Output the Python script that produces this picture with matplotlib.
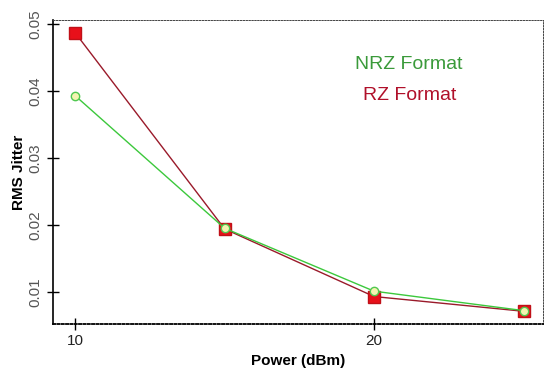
import matplotlib
matplotlib.use("Agg")
import matplotlib.pyplot as plt

power = [10, 15, 20, 25]
nrz_jitter = [0.0393, 0.0195, 0.0101, 0.0072]
rz_jitter = [0.0487, 0.0194, 0.0093, 0.0071]
xticks = [10, 20]
yticks = [0.01, 0.02, 0.03, 0.04, 0.05]

plt.rcParams['font.family'] = ['Liberation Sans', 'DejaVu Sans']

fig = plt.figure(figsize=(5.47, 3.73), dpi=100)
ax = fig.add_axes([53/547, 1 - 324/373, (543-53)/547, (324-20)/373])

ax.plot(power, rz_jitter, color='#9a1a2a', lw=1.0, marker='s', ms=8.5,
        mfc='#e8101a', mec='#c01018', zorder=3)
ax.plot(power, nrz_jitter, color='#3cc83c', lw=1.0, marker='o', ms=6,
        mfc='#f4f4b0', mec='#50c850', mew=1.0, zorder=4)

ax.set_xlim(9.26, 25.65)
ax.set_ylim(0.0052, 0.0506)
ax.set_xticks(xticks)
ax.set_xticklabels([str(t) for t in xticks], fontsize=11, color='#222222')
ax.set_yticks(yticks)
ax.set_yticklabels([f"{t:.2f}" for t in yticks], fontsize=11, color='#555555',
                   rotation=90, va='center')
ax.tick_params(axis='both', direction='inout', length=8, width=1, color='black')

for side in ('top', 'right'):
    ax.spines[side].set_linestyle((0, (1.5, 1.5)))
    ax.spines[side].set_linewidth(0.7)
    ax.spines[side].set_color('#444444')
ax.spines['bottom'].set_linestyle((0, (1.2, 1.2)))
ax.spines['bottom'].set_linewidth(1.3)
ax.spines['left'].set_linewidth(1.2)

ax.set_xlabel('Power (dBm)', fontsize=11, fontweight='bold', labelpad=4)
ax.set_ylabel('RMS Jitter', fontsize=11, fontweight='bold', labelpad=2)

ax.text(0.617, 0.855, 'NRZ Format', transform=ax.transAxes, fontsize=14,
        color='#3a9a3a', ha='left', va='center')
ax.text(0.632, 0.752, 'RZ Format', transform=ax.transAxes, fontsize=14,
        color='#b0102a', ha='left', va='center')

fig.savefig('out.png', dpi=100)
